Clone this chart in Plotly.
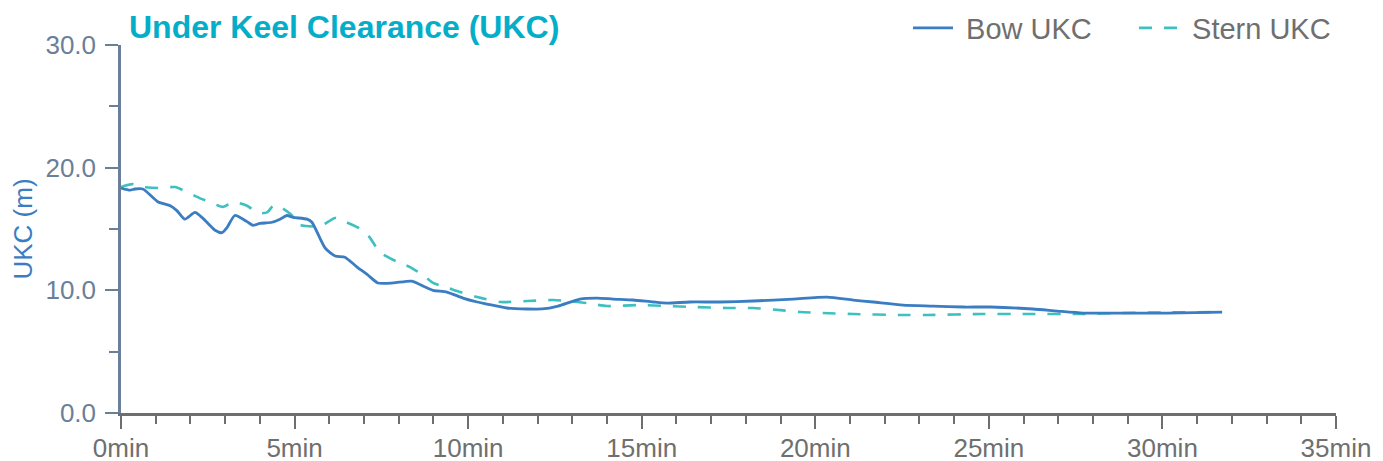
import plotly.graph_objects as go

# ---- data (time in minutes, UKC in metres) ----
bow_t = [0, 0.26, 0.40, 0.63, 1.07, 1.42, 1.61, 1.84, 2.13, 2.36, 2.71, 2.91, 3.05, 3.28,
         3.63, 3.80, 4.00, 4.35, 4.58, 4.78, 4.96, 5.36, 5.50, 5.88, 6.17, 6.45, 6.80,
         7.09, 7.40, 7.84, 8.38, 8.76, 8.99, 9.39, 9.85, 10.26, 10.54, 11.12, 11.70,
         12.13, 12.59, 13.22, 13.71, 14.17, 14.75, 15.33, 15.73, 16.39, 17.26, 18.21,
         19.36, 20.34, 21.09, 21.67, 22.53, 23.39, 24.26, 25.04, 26.27, 26.97, 27.72,
         29.16, 30.14, 31.72]
bow_ukc = [18.34, 18.17, 18.26, 18.26, 17.2, 16.9, 16.5, 15.8, 16.35, 15.87, 14.9, 14.7,
           15.1, 16.1, 15.6, 15.3, 15.45, 15.55, 15.8, 16.1, 15.95, 15.8, 15.55, 13.45,
           12.8, 12.7, 11.9, 11.3, 10.6, 10.6, 10.75, 10.27, 10.0, 9.86, 9.37, 9.05,
           8.88, 8.56, 8.48, 8.48, 8.72, 9.29, 9.37, 9.29, 9.21, 9.05, 8.96, 9.05, 9.05,
           9.13, 9.29, 9.45, 9.21, 9.05, 8.80, 8.72, 8.64, 8.64, 8.48, 8.31, 8.15, 8.15,
           8.15, 8.23]

stern_t = [0, 0.32, 0.63, 1.07, 1.56, 1.84, 2.28, 2.56, 2.94, 3.23, 3.63, 3.95, 4.21,
           4.38, 4.52, 4.93, 5.07, 5.53, 5.73, 6.17, 6.45, 6.97, 7.17, 7.46, 7.98, 8.33,
           8.76, 8.99, 9.42, 9.68, 10.26, 10.92, 11.70, 12.45, 13.14, 13.43, 14.0, 14.95,
           15.73, 16.48, 17.46, 18.21, 18.99, 19.56, 20.22, 21.09, 22.44, 23.22, 24.83,
           26.27, 27.72, 28.7, 30.0, 31.72]
stern_ukc = [18.42, 18.66, 18.42, 18.34, 18.42, 18.09, 17.5, 17.2, 16.8, 17.2, 16.9,
             16.3, 16.35, 16.9, 16.9, 16.1, 15.4, 15.2, 15.2, 15.9, 15.6, 14.9, 14.3,
             13.1, 12.3, 11.9, 11.1, 10.6, 10.2, 9.94, 9.45, 9.05, 9.13, 9.21, 9.05,
             8.96, 8.72, 8.80, 8.72, 8.64, 8.56, 8.56, 8.39, 8.23, 8.15, 8.07, 7.99,
             7.99, 8.07, 8.07, 8.07, 8.15, 8.2, 8.23]

x_ticks = [0, 5, 10, 15, 20, 25, 30, 35]
x_labels = ["0min", "5min", "10min", "15min", "20min", "25min", "30min", "35min"]
y_ticks = [0, 10, 20, 30]
y_labels = ["0.0", "10.0", "20.0", "30.0"]
series_names = ["Bow UKC", "Stern UKC"]

BOW_COLOR = "#3b7dc2"
STERN_COLOR = "#3fc0c0"
FONT = "Liberation Sans, Arial, sans-serif"
NBSP = "\u00a0"  # small gap between legend line and its label

# page has an 8px body margin; size the figure so the plot lands where the reference has it
OFF = 8
W, H = 1383 - OFF, 461 - OFF
ML, MR, MT, MB = 121 - OFF, 47, 45 - OFF, 48
PW, PH = W - ML - MR, H - MT - MB

fig = go.Figure()
fig.add_trace(go.Scatter(
    x=stern_t, y=stern_ukc, name=NBSP + series_names[1], mode="lines",
    line=dict(color=STERN_COLOR, width=2.6, dash="13px,12px", shape="spline", smoothing=0.6),
))
fig.add_trace(go.Scatter(
    x=bow_t, y=bow_ukc, name=NBSP + series_names[0], mode="lines", legendwidth=171,
    line=dict(color=BOW_COLOR, width=2.8, shape="spline", smoothing=0.6),
))

fig.update_layout(
    width=W, height=H,
    margin=dict(l=ML, r=MR, t=MT, b=MB, autoexpand=False),
    paper_bgcolor="white", plot_bgcolor="white",
    font=dict(family=FONT, size=26, color="#6f6f6f"),
    title=dict(
        text="<b>Under Keel Clearance (UKC)</b>",
        font=dict(family=FONT, size=32, color="#04aec9"),
        xref="container", yref="container",
        x=(129 - OFF) / W, xanchor="left",
        y=1 - (27 - OFF) / H, yanchor="middle",
    ),
    legend=dict(
        orientation="h", traceorder="reversed",
        xref="paper", yref="paper",
        x=(1336 - 121) / PW, xanchor="right",
        y=(413 - 28) / PH, yanchor="middle",
        font=dict(family=FONT, size=29, color="#6f6f6f"),
        itemwidth=40,
        bgcolor="rgba(0,0,0,0)",
    ),
    showlegend=True,
)

fig.update_xaxes(
    range=[0, 35], tickvals=x_ticks, ticktext=x_labels,
    automargin=False,
    showgrid=False, zeroline=False,
    showline=True, linecolor="#6e6e6e", linewidth=2.5,
    ticks="outside", ticklen=13, tickwidth=2, tickcolor="#6e6e6e",
    tickfont=dict(family=FONT, size=26, color="#6f6f6f"),
    ticklabelstandoff=-3,
    minor=dict(dtick=1, ticks="outside", ticklen=8, tickwidth=2, tickcolor="#6e6e6e"),
)
fig.update_yaxes(
    range=[0, 30], tickvals=y_ticks, ticktext=y_labels,
    automargin=False,
    showgrid=False, zeroline=False,
    showline=True, linecolor="#6a7f99", linewidth=2.5,
    ticks="outside", ticklen=13, tickwidth=2, tickcolor="#6a7f99",
    tickfont=dict(family=FONT, size=26, color="#6a7f99"),
    ticklabelstandoff=4,
    minor=dict(tickvals=[5, 15, 25], ticks="outside", ticklen=9, tickwidth=2, tickcolor="#6a7f99"),
    title=dict(text="UKC (m)", font=dict(family=FONT, size=26, color=BOW_COLOR), standoff=12),
)

fig.write_html("out.html")
